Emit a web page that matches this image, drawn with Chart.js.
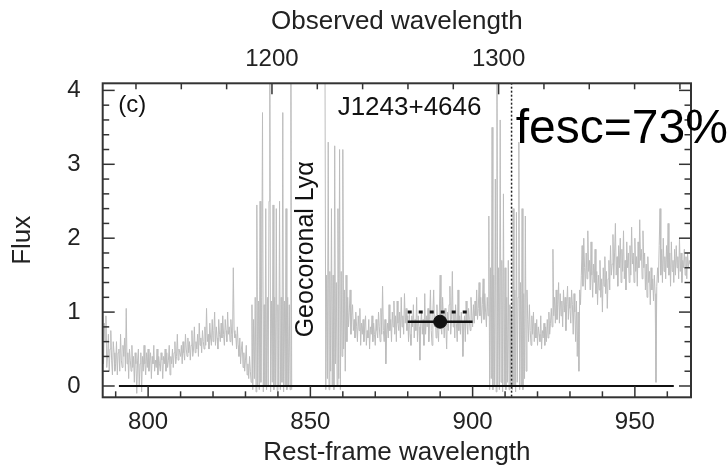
<!DOCTYPE html>
<html>
<head>
<meta charset="utf-8">
<script src="https://cdn.jsdelivr.net/npm/chart.js@4.4.1/dist/chart.umd.min.js"></script>
<style>
  html, body { margin: 0; padding: 0; background: #fff; }
</style>
</head>
<body>
<canvas id="specChart" width="727" height="466"></canvas>
<script>
'use strict';

// COS spectrum of J1243+4646 in the rest frame, 0.25 A pixels
const waveStep = 0.25;
const redshift = 0.4317;

// flux per pixel
const fluxBlue = [ // 786.0 - 789.75
  0.55, 0.3, 0.85, 0.6, 0.95, 0.25, 0.4, 0.7, 0.2, 0.5, 0.75, 0.35, 0.15, 0.6, 0.45, 0.2
];
const fluxLow = [ // 790.0 - 809.75
  0.3, 0.6, 0.15, 0.45, 0.5, 0.2, 0.7, 0.35, 0.25, 0.55,
  0.4, 0.65, 0.2, 1.05, 0.3, 0.45, 0.1, 0.5, 0.35, 0.2,
  0.55, 0.25, 0.4, 0.05, 0.45, 0.3, -0.1, 0.35, 0.5, 0.0,
  0.3, 0.45, -0.08, 0.4, 0.2, 0.55, 0.3, 0.15, 0.45, 0.25,
  0.5, 0.2, 0.35, 0.45, 0.1, 0.4, 0.3, 0.55, 0.2, 0.35,
  0.25, 0.5, 0.15, 0.4, 0.3, 0.2, 0.45, 0.35, 0.1, 0.4,
  0.3, 0.5, 0.2, 0.45, 0.25, 0.35, 0.55, 0.15, 0.4, 0.3,
  0.5, 0.25, 0.45, 0.6, 0.3, 0.4, 0.7, 0.35, 0.5, 0.45
];
const fluxRise = [ // 810.0 - 826.75
  0.4, 0.55, 0.3, 0.6, 0.45, 0.35, 0.7, 0.5, 0.4, 0.65,
  0.45, 0.6, 0.35, 0.55, 0.75, 0.4, 0.5, 0.8, 0.45, 0.6,
  0.5, 0.7, 0.4, 0.85, 0.55, 0.65, 0.45, 0.75, 0.6, 0.5,
  0.8, 0.55, 1.05, 0.6, 0.7, 0.5, 0.85, 0.65, 0.55, 0.9,
  0.6, 0.75, 1.0, 0.55, 0.8, 0.65, 0.5, 0.9, 0.7, 0.6,
  0.85, 0.65, 0.95, 0.7, 0.55, 0.9, 0.75, 0.6, 1.0, 0.7,
  0.8, 0.6, 0.9, 0.7, 0.55, 1.6, 0.75, 0.65
];
const fluxDrop = [ // 827.0 - 831.75
  0.7, 0.5, 0.8, 0.55, 0.4, 0.65, 0.3, 0.5, 0.6, 0.25,
  0.45, 0.2, 0.35, 0.55, 0.15, 0.3, 0.1, 0.4, 0.2, 0.05
];
const fluxAirglow1 = [ // 832.0 - 844.25
  1.1, -0.05, 0.9, 0.1, 1.2, -0.08, 2.45, 0.0, 1.15, -0.05,
  2.5, 0.05, 1.2, 3.7, -0.08, 1.1, 0.0, 2.4, -0.05, 1.2,
  0.0, 2.5, 4.5, -0.08, 1.15, 0.05, 2.45, -0.05, 1.2, 0.0,
  2.4, -0.06, 1.1, 0.0, 2.5, -0.05, 1.2, 0.05, 3.7, -0.08,
  1.15, 0.0, 2.4, -0.05, 1.2, 0.0, 1.1, -0.05, 4.5, -0.05
];
const fluxMasked = [null]; // geocoronal Lya, 844.5 - 854.25
const fluxAirglow2 = [ // 854.5 - 861.25
  4.5, -0.05, 1.5, 0.1, 3.3, -0.05, 1.55, 0.2, 2.4, 0.0,
  1.5, -0.05, 3.25, 0.3, 1.4, 0.0, 2.4, 0.1, 3.2, -0.05,
  1.55, 0.4, 3.2, 0.5, 1.3, 0.2, 1.5, 0.6
];
const fluxMid = [ // 861.5 - 880.25
  1.2, 0.8, 1.0, 1.3, 0.7, 0.95, 1.1, 0.75, 0.9, 0.65,
  1.0, 0.8, 0.6, 0.95, 0.75, 1.05, 0.55, 0.85, 0.7, 0.9,
  0.6, 0.8, 0.95, 0.55, 0.75, 0.65, 0.9, 0.5, 0.8, 0.7,
  0.95, 0.6, 0.85, 0.7, 0.55, 0.9, 0.75, 0.65, 1.0, 0.8,
  0.6, 1.05, 0.7, 1.35, 0.75, 0.6, 0.9, 0.3, 0.7, 0.85,
  0.65, 1.1, 0.75, 0.9, 0.6, 1.0, 0.8, 1.15, 0.7, 0.95,
  0.6, 1.15, 0.85, 0.75, 1.0, 0.65, 1.2, 0.8, 0.95, 0.7,
  1.25, 0.85, 1.05, 0.75, 0.95, 0.6
];
const fluxLyc = [ // 880.5 - 900.25
  1.0, 0.7, 0.55, 0.95, 0.8, 1.1, 0.65, 0.9, 0.75, 1.2,
  0.6, 0.95, 0.8, 0.35, 0.85, 1.0, 0.7, 0.9, 0.55, 1.25,
  0.7, 0.95, 0.8, 1.05, 0.6, 0.9, 1.3, 0.75, 0.55, 1.0,
  1.3, 0.8, 0.95, 0.65, 1.1, 0.75, 0.6, 1.0, 1.5, 0.8,
  0.7, 1.2, 0.9, 0.65, 1.05, 0.8, 0.5, 1.0, 0.75, 1.1,
  1.35, 0.7, 0.9, 1.55, 0.8, 1.0, 0.65, 1.1, 0.85, 0.6,
  1.3, 0.75, 0.95, 0.7, 1.0, 0.85, 0.4, 0.8, 0.95, 0.6,
  1.15, 0.85, 0.7, 1.05, 0.9, 0.75, 1.2, 0.95, 0.8, 1.1
];
const fluxPreLL = [ // 900.5 - 904.75
  0.85, 1.15, 0.95, 1.3, 0.9, 1.05, 1.4, 0.95, 1.2, 0.85,
  1.1, 1.45, 0.9, 1.25, 1.0, 0.8, 1.2, 0.95
];
const fluxAirglow3 = [ // 905.0 - 911.75
  2.3, -0.05, 1.6, 0.1, 3.5, -0.05, 1.5, 0.0, 2.8, -0.08,
  4.5, 0.0, 1.6, -0.05, 3.6, 0.05, 1.7, -0.08, 2.6, 0.0,
  1.6, -0.05, 1.2, 0.05, 1.7, -0.05, 1.1, 0.0
];
const fluxAirglow4 = [ // 912.0 - 916.75
  1.0, -0.05, 2.4, 0.0, 1.3, -0.08, 2.35, 0.05, 1.2, 3.3,
  -0.05, 1.4, 0.0, 2.4, -0.05, 1.25, 0.1, 2.3, 0.2, 1.3
];
const fluxDip = [ // 917.0 - 924.25
  0.9, 0.6, 1.1, 0.75, 0.55, 0.95, 0.7, 1.0, 0.6, 0.85,
  0.65, 0.9, 0.55, 0.8, 0.7, 0.6, 0.95, 0.5, 0.75, 0.65,
  0.85, 0.55, 0.8, 0.6, 0.9, 0.65, 1.0, 0.7, 0.85, 1.05
];
const fluxClimb = [ // 924.5 - 933.25
  0.8, 1.85, 0.95, 1.2, 0.85, 1.3, 0.9, 1.1, 1.4, 0.85,
  1.25, 0.95, 1.15, 0.8, 1.3, 1.0, 1.2, 0.75, 1.1, 1.35,
  0.9, 1.2, 1.05, 0.85, 1.3, 1.1, 0.7, 1.25, 1.0, 0.6,
  1.15, 0.4, 1.0, 0.2, 1.3, 1.1
];
const fluxRed = [ // 933.5 - 957.75
  1.5, 1.9, 1.35, 2.0, 1.6, 1.3, 1.8, 1.45, 2.1, 1.55,
  1.7, 1.3, 1.95, 1.5, 1.2, 1.65, 1.4, 1.85, 1.25, 1.55,
  1.1, 1.5, 1.3, 1.7, 1.2, 1.45, 1.0, 1.6, 1.35, 1.75,
  1.25, 1.55, 1.05, 1.45, 1.7, 1.3, 1.9, 1.5, 1.65, 2.05,
  1.45, 1.8, 2.2, 1.5, 1.75, 1.35, 1.9, 1.6, 2.0, 1.4,
  1.85, 1.55, 2.1, 1.45, 1.7, 1.3, 1.95, 1.6, 1.8, 1.4,
  1.9, 1.5, 2.15, 1.65, 1.8, 1.4, 2.0, 1.55, 1.75, 1.35,
  1.95, 1.6, 2.25, 1.7, 1.85, 1.45, 2.1, 1.6, 1.8, 1.3,
  1.65, 1.2, 1.75, 1.4, 1.55, 1.1, 1.6, 1.3, 1.45, 1.15,
  1.5, 1.25, 0.05, 1.35, 1.6, 1.4, 1.9, 2.4
];
const fluxEdge = [ // 958.0 - 967.0
  1.5, 1.85, 1.4, 2.0, 1.55, 1.75, 1.45, 1.9, 1.6, 2.2,
  1.5, 1.8, 1.35, 1.95, 1.55, 1.7, 1.4, 1.85, 1.5, 1.9,
  1.6, 1.75, 1.45, 2.0, 1.55, 1.8, 1.4, 1.7, 1.6, 1.85,
  1.5, 1.75, 1.45, 1.8, 1.6, 1.7, 1.65
];

const segStart = [786.0, 790.0, 810.0, 827.0, 832.0, 849.0, 854.5, 861.5,
  880.5, 900.5, 905.0, 912.0, 917.0, 924.5, 933.5, 958.0];
const segFlux = [fluxBlue, fluxLow, fluxRise, fluxDrop, fluxAirglow1, fluxMasked,
  fluxAirglow2, fluxMid, fluxLyc, fluxPreLL, fluxAirglow3, fluxAirglow4,
  fluxDip, fluxClimb, fluxRed, fluxEdge];

// zero level and LyC measurement
const zeroX = [791, 962];
const lycX = [880, 900];
const lycCenter = 890;
const lycFlux = 0.87;
const modelX = [880, 898.5];
const modelFlux = 1.0;
const lymanLimit = 912;

const restRange = [786, 967.3];
const fluxRange = [-0.153, 4.096];

const specPoints = [];
segStart.forEach((w0, k) => {
  segFlux[k].forEach((f, i) => specPoints.push({ x: w0 + i * waveStep, y: f }));
});

Chart.defaults.font.family = '"Liberation Sans", Arial, Helvetica, sans-serif';
Chart.defaults.color = '#222';

const frame = {
  id: 'frame',
  afterDatasetsDraw(chart) {
    const { ctx, chartArea: a, scales } = chart;
    ctx.save();
    ctx.strokeStyle = '#333';
    ctx.lineWidth = 1.5;
    const seg = (x1, y1, x2, y2) => {
      ctx.beginPath(); ctx.moveTo(x1, y1); ctx.lineTo(x2, y2); ctx.stroke();
    };
    scales.x.ticks.forEach(t => {
      const px = scales.x.getPixelForValue(t.value);
      seg(px, a.bottom, px, a.bottom - (t.value % 50 === 0 ? 11 : 6));
    });
    scales.x2.ticks.forEach(t => {
      const px = scales.x2.getPixelForValue(t.value);
      seg(px, a.top, px, a.top + (t.value % 100 === 0 ? 11 : 6));
    });
    scales.y.ticks.forEach(t => {
      const py = scales.y.getPixelForValue(t.value);
      const len = Math.abs(t.value - Math.round(t.value)) < 1e-6 ? 12 : 6.5;
      seg(a.left, py, a.left + len, py);
      seg(a.right, py, a.right - len, py);
    });
    ctx.lineWidth = 2;
    ctx.strokeRect(a.left, a.top, a.right - a.left, a.bottom - a.top);
    ctx.restore();
  },
  afterDraw(chart) {
    const { ctx, scales } = chart;
    const x = scales.x, y = scales.y;
    ctx.save();
    ctx.fillStyle = '#111';
    ctx.textBaseline = 'alphabetic';
    ctx.textAlign = 'left';
    ctx.font = '24px "Liberation Sans", Arial, sans-serif';
    ctx.fillText('(c)', x.getPixelForValue(790.8), y.getPixelForValue(3.71));
    ctx.font = '26px "Liberation Sans", Arial, sans-serif';
    ctx.fillText('J1243+4646', x.getPixelForValue(858.4), y.getPixelForValue(3.67));
    ctx.fillStyle = '#000';
    ctx.font = '48px "Liberation Sans", Arial, sans-serif';
    ctx.fillText('fesc=73%', x.getPixelForValue(913.3), y.getPixelForValue(3.29));
    ctx.fillStyle = '#111';
    ctx.translate(x.getPixelForValue(850.9), y.getPixelForValue(1.85));
    ctx.rotate(-Math.PI / 2);
    ctx.textAlign = 'center';
    ctx.font = '25px "Liberation Sans", Arial, sans-serif';
    ctx.fillText('Geocoronal Ly\u03b1', 0, 0);
    ctx.restore();
  }
};

new Chart(document.getElementById('specChart'), {
  type: 'line',
  data: {
    datasets: [
      {
        label: 'LyC model',
        data: modelX.map(v => ({ x: v, y: modelFlux })),
        borderColor: '#111',
        borderWidth: 3,
        borderDash: [4, 7],
        pointRadius: 0
      },
      {
        label: 'LyC flux',
        data: lycX.map(v => ({ x: v, y: lycFlux })),
        borderColor: '#111',
        borderWidth: 2.5,
        pointRadius: 0
      },
      {
        label: 'LyC point',
        data: [{ x: lycCenter, y: lycFlux }],
        showLine: false,
        pointRadius: 6.5,
        pointBackgroundColor: '#111',
        pointBorderColor: '#111'
      },
      {
        label: 'Lyman limit',
        data: [{ x: lymanLimit, y: fluxRange[0] - 0.1 }, { x: lymanLimit, y: fluxRange[1] + 0.1 }],
        borderColor: '#222',
        borderWidth: 1.5,
        borderDash: [2, 2],
        pointRadius: 0
      },
      {
        label: 'zero',
        data: zeroX.map(v => ({ x: v, y: 0 })),
        borderColor: '#111',
        borderWidth: 2,
        pointRadius: 0
      },
      {
        label: 'spectrum',
        data: specPoints,
        borderColor: '#bdbdbd',
        borderWidth: 1,
        pointRadius: 0,
        tension: 0,
        spanGaps: false
      }
    ]
  },
  options: {
    responsive: false,
    animation: false,
    layout: { padding: { left: 0, right: 36, top: 0, bottom: 0 } },
    plugins: { legend: { display: false }, tooltip: { enabled: false } },
    scales: {
      x: {
        type: 'linear',
        position: 'bottom',
        min: restRange[0],
        max: restRange[1],
        grid: { display: false },
        border: { display: false },
        ticks: {
          stepSize: 10,
          includeBounds: false,
          autoSkip: false,
          maxRotation: 0,
          padding: 3,
          font: { size: 24 },
          callback: v => (v % 50 === 0 ? String(v) : '')
        },
        title: { display: true, text: 'Rest-frame wavelength', font: { size: 26 }, padding: { top: 0, bottom: -2 } },
        afterFit: s => { s.height = 68.7; }
      },
      x2: {
        type: 'linear',
        position: 'top',
        min: restRange[0] * (1 + redshift),
        max: restRange[1] * (1 + redshift),
        grid: { display: false },
        border: { display: false },
        ticks: {
          stepSize: 20,
          includeBounds: false,
          autoSkip: false,
          maxRotation: 0,
          padding: 2,
          font: { size: 24 },
          callback: v => (v % 100 === 0 ? String(v) : '')
        },
        title: { display: true, text: 'Observed wavelength', font: { size: 26 }, padding: { top: 6, bottom: 0 } },
        afterFit: s => { s.height = 83.3; }
      },
      y: {
        type: 'linear',
        min: fluxRange[0],
        max: fluxRange[1],
        grid: { display: false },
        border: { display: false },
        ticks: {
          stepSize: 0.2,
          includeBounds: false,
          autoSkip: false,
          padding: 14,
          font: { size: 24 },
          callback: v => (Math.abs(v - Math.round(v)) < 1e-6 ? String(Math.round(v)) : '')
        },
        title: { display: true, text: 'Flux', font: { size: 26 }, padding: { top: 7, bottom: 0 } },
        afterFit: s => { s.width = 102.7; }
      }
    }
  },
  plugins: [frame]
});
</script>
</body>
</html>
